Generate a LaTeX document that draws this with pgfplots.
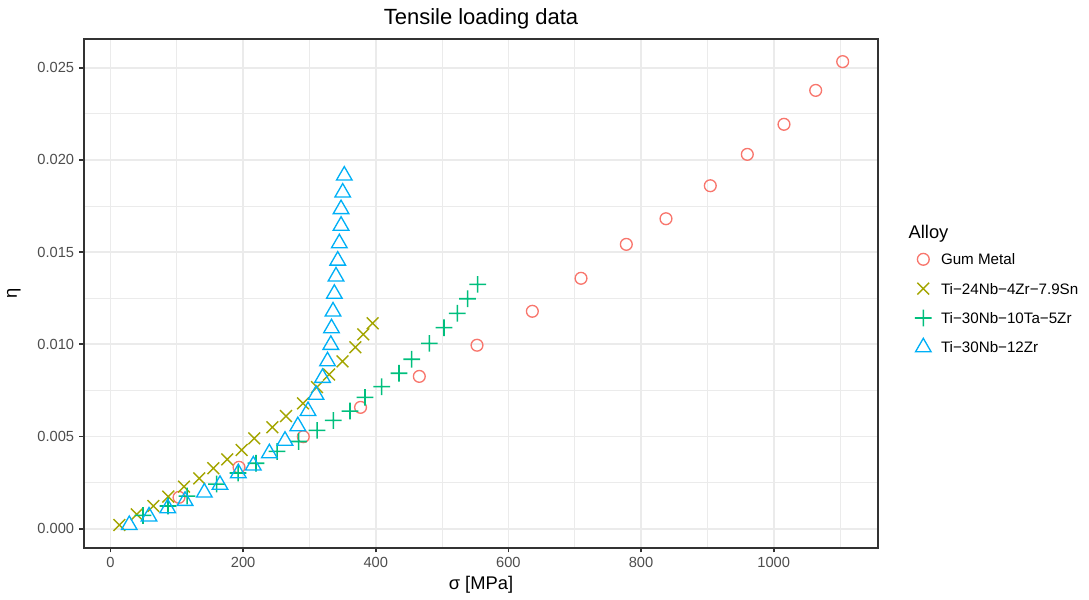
\documentclass[border=0pt]{standalone}
\usepackage{pgfplots}
\pgfplotsset{compat=1.18}
\usepackage{fontspec}
\setmainfont{Liberation Sans}
\definecolor{cGum}{HTML}{F8766D}
\definecolor{cSn}{HTML}{A3A500}
\definecolor{cTa}{HTML}{00BF7D}
\definecolor{cZr}{HTML}{00B0F6}
\definecolor{g20}{HTML}{333333}
\definecolor{g30}{HTML}{4D4D4D}
\definecolor{g92}{HTML}{EBEBEB}
\pgfdeclareplotmark{plusf}{%
  \pgfpathrectangle{\pgfqpoint{-\pgfplotmarksize}{-0.47pt}}{\pgfqpoint{2\pgfplotmarksize}{0.94pt}}%
  \pgfpathrectangle{\pgfqpoint{-0.47pt}{-\pgfplotmarksize}}{\pgfqpoint{0.94pt}{2\pgfplotmarksize}}%
  \pgfusepathqfill
}
\pgfplotsset{
  legimg/.style={legend image code/.code={\path[draw=none,fill=none] (-6pt,-6pt) rectangle (6pt,6pt); \draw[##1] plot coordinates {(0pt,0pt)};}},
}
\begin{document}
\begin{tikzpicture}
\path[use as bounding box] (-50.22pt,-30.6pt) rectangle (603.18pt,328.8pt);
\begin{axis}[
  at={(0pt,0pt)}, anchor=south west,
  scale only axis, width=476.76pt, height=305.4pt,
  clip mode=individual,
  xmin=-40.3, xmax=1157.7, ymin=-0.001047, ymax=0.026557,
  xtick={0,200,400,600,800,1000},
  ytick={0,0.005,0.01,0.015,0.02,0.025},
  minor xtick={100,300,500,700,900,1100},
  minor ytick={0.0025,0.0075,0.0125,0.0175,0.0225},
  scaled y ticks=false, scaled x ticks=false,
  xticklabel style={/pgf/number format/1000 sep={}},
  yticklabel style={/pgf/number format/fixed, /pgf/number format/fixed zerofill, /pgf/number format/precision=3},
  /pgf/number format/assume math mode=true,
  tick label style={font=\fontsize{8.8}{10}\selectfont, text=g30, inner sep=0pt},
  xticklabel style={anchor=north, yshift=-2.9pt},
  yticklabel style={anchor=east, xshift=-2.9pt},
  tick align=outside, xtick pos=left, ytick pos=left,
  major tick length=2.65pt, minor tick length=0pt,
  every tick/.style={g20, line width=1.07pt},
  grid=both,
  major grid style={g92, line width=1.07pt},
  minor grid style={g92, line width=0.53pt},
  axis line style={g20, line width=1.07pt},
  title={Tensile loading data},
  every axis title/.style={at={(axis description cs:0.5,1)}, anchor=base, yshift=9pt, inner sep=0pt, font=\fontsize{13.2}{15}\selectfont},
  xlabel={σ [MPa]},
  xlabel style={at={(axis description cs:0.5,0)}, anchor=base, yshift=-24.9pt, inner sep=0pt, font=\fontsize{11}{13}\selectfont},
  ylabel={η},
  ylabel style={at={(axis description cs:-0.0841,0.5)}, anchor=base, rotate=0, inner sep=0pt, font=\fontsize{11}{13}\selectfont},
  legend cell align=left,
  legend style={at={(axis description cs:1.04405,0.5960)}, anchor=north west, draw=none, fill=none,
    inner sep=0pt, outer sep=0pt, row sep=0pt,
    nodes={inner sep=0pt, text height=12.2pt, text depth=5.4pt, font=\fontsize{9.1}{10}\selectfont},
    /tikz/every odd column/.append style={column sep=4.62pt}},
]
\addplot[only marks, mark=o, mark size=3.54pt, color=cGum, mark options={solid, line width=0.8pt}, legimg] coordinates {
(103.4,0.00170) (193.9,0.00333) (290.8,0.00499) (377.1,0.00658) (465.7,0.00826)
(552.7,0.00995) (636.1,0.01179) (709.5,0.01358) (777.8,0.01542) (837.6,0.01681)
(904.4,0.01860) (960.2,0.02030) (1015.5,0.02193) (1063.3,0.02377) (1104.0,0.02533)
};
\addlegendentry{Gum Metal}
\addplot[only marks, mark=x, mark size=5.0pt, color=cSn, mark options={solid, line width=0.85pt}, legimg] coordinates {
(13.4,0.00020) (39.7,0.00078) (64.7,0.00123) (87.3,0.00174) (111.0,0.00228)
(134.0,0.00273) (155.1,0.00328) (176.2,0.00376) (197.9,0.00427) (216.9,0.00490)
(244.1,0.00550) (264.7,0.00611) (290.4,0.00680) (311.5,0.00768) (329.6,0.00836)
(349.9,0.00907) (369.2,0.00984) (381.3,0.01054) (395.4,0.01114)
};
\addlegendentry{Ti−24Nb−4Zr−7.9Sn}
\addplot[only marks, mark=plusf, mark size=5.0pt, color=cTa, fill=cTa, mark options={solid, draw=none, fill=cTa}, legimg] coordinates {
(49.1,0.00072) (86.8,0.00123) (115.5,0.00177) (160.0,0.00242) (192.4,0.00302)
(219.5,0.00355) (251.2,0.00419) (283.6,0.00473) (311.5,0.00533) (336.0,0.00587)
(361.2,0.00638) (383.8,0.00712) (409.0,0.00770) (435.1,0.00843) (454.2,0.00919)
(480.8,0.01005) (502.9,0.01090) (523.0,0.01168) (538.4,0.01247) (553.7,0.01325)
};
\addlegendentry{Ti−30Nb−10Ta−5Zr}
\addplot[only marks, mark=triangle, mark size=5.4pt, color=cZr, mark options={solid, line width=0.8pt}, legimg] coordinates {
(28.4,0.00020) (58.2,0.00066) (86.4,0.00111) (112.5,0.00151) (141.6,0.00196)
(165.2,0.00238) (192.8,0.00301) (215.4,0.00343) (239.6,0.00409) (263.2,0.00477)
(282.5,0.00556) (297.9,0.00638) (310.0,0.00726) (319.8,0.00818) (327.3,0.00908)
(332.3,0.00997) (333.3,0.01087) (335.6,0.01178) (337.6,0.01274) (340.1,0.01368)
(342.7,0.01454) (345.1,0.01548) (347.7,0.01643) (347.7,0.01733) (350.2,0.01823)
(352.6,0.01915)
};
\addlegendentry{Ti−30Nb−12Zr}
\node[anchor=base west, inner sep=0pt, font=\fontsize{11}{13}\selectfont] at (axis description cs:1.03775,0.6071) {Alloy};
\end{axis}
\end{tikzpicture}
\end{document}
